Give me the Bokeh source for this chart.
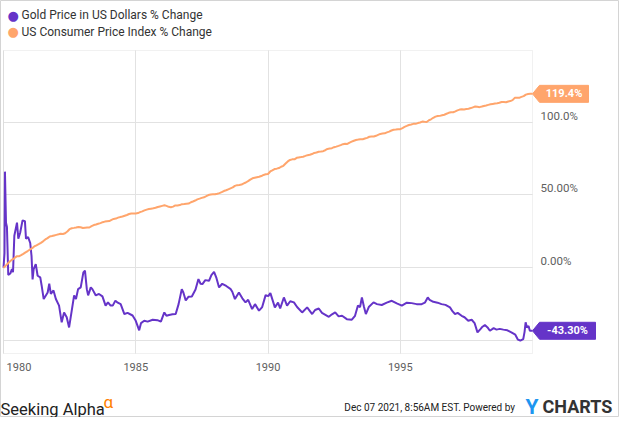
import pandas as pd
from bokeh.plotting import figure
from bokeh.models import Range1d, LinearAxis, FixedTicker, Label, PolyAnnotation, Grid, BoxAnnotation
from bokeh.embed import file_html
from bokeh.resources import INLINE

# ---------------- data ----------------
series_names = ["Gold Price in US Dollars % Change", "US Consumer Price Index % Change"]

# Gold: years since 31 Dec 1979 and % change
gold_offsets = [0.00, 0.038, 0.055, 0.094, 0.13, 0.18, 0.256, 0.32, 0.36, 0.41, 0.51, 0.56, 0.63, 0.72, 0.81,
                0.85, 0.93, 1.01, 1.06, 1.10, 1.14, 1.22, 1.29, 1.39, 1.44, 1.52, 1.67, 1.73, 1.79, 1.89,
                1.98, 2.10, 2.20, 2.29, 2.39, 2.48, 2.58, 2.67, 2.74, 2.82, 2.92, 3.02, 3.08, 3.15, 3.20,
                3.30, 3.36, 3.49, 3.61, 3.74, 3.86, 3.95, 4.05, 4.13, 4.23, 4.32, 4.43, 4.57, 4.69, 4.88,
                4.99, 5.13, 5.20, 5.32, 5.45, 5.64, 5.82, 5.95, 6.08, 6.16, 6.26, 6.39, 6.51, 6.62, 6.74,
                6.80, 6.89, 6.99, 7.12, 7.26, 7.37, 7.45, 7.52, 7.63, 7.77, 7.86, 7.96, 8.05, 8.15, 8.27,
                8.42, 8.59, 8.65, 8.75, 8.90, 9.03, 9.15, 9.25, 9.40, 9.51, 9.66, 9.78, 9.91, 10.01, 10.09,
                10.26, 10.38, 10.46, 10.60, 10.72, 10.84, 10.98, 11.10, 11.29, 11.48, 11.67, 11.78, 11.92,
                12.04, 12.30, 12.42, 12.54, 12.67, 12.80, 12.98, 13.17, 13.29, 13.40, 13.48, 13.55, 13.63,
                13.70, 13.81, 13.99, 14.12, 14.30, 14.49, 14.68, 14.87, 15.06, 15.25, 15.43, 15.62, 15.81,
                15.93, 16.04, 16.11, 16.25, 16.41, 16.56, 16.71, 16.88, 16.98, 17.07, 17.17, 17.32, 17.43,
                17.57, 17.70, 17.81, 17.92, 18.04, 18.11, 18.20, 18.30, 18.39, 18.53, 18.64, 18.76, 18.90,
                19.05, 19.20, 19.35, 19.45, 19.54, 19.65, 19.70, 19.74, 19.79, 19.85, 19.90, 20.0]
gold_pct = [0, 10, 66, 31, 28, -5, -4, -1, -3, 22, 31, 20, 24, 32.5, 32,
            20, 21, 17, 8, -8, -1, 2.5, -5.5, -6.6, -12, -21.5, -17, -11, -18, -15.6,
            -21.5, -26, -37.5, -30.7, -34, -41, -29.5, -19, -21.5, -14.7, -13.5, -3.2, -2, -14.7, -19,
            -13.5, -14.7, -19, -18, -19.7, -26, -23.8, -26, -26, -22.6, -24, -25, -31.8, -31, -32.8,
            -36, -43, -38, -36.4, -37, -35.7, -36, -37, -30.7, -33, -32.5, -32, -31.8, -25, -14.7,
            -17, -22.5, -20, -19.7, -15, -7.8, -11, -11.2, -8.5, -9, -5, -2.8, -7, -13.5, -11,
            -12.5, -14.7, -16.5, -21.5, -17, -21, -23.8, -22, -28.4, -25, -29.5, -27, -18.8, -19.5, -17.4,
            -27.2, -24, -28, -20.4, -26, -23, -23.8, -27, -30.7, -27.2, -31.8, -29, -28,
            -31, -33.7, -32, -30.7, -33.4, -33, -35.3, -35.7, -33, -26, -27, -20.4, -27,
            -31.8, -27, -23.8, -25, -25.6, -24, -22.7, -24.5, -26, -24, -24.3, -25, -25,
            -24, -20.4, -22, -23.4, -24, -25, -25.5, -27.2, -30, -31.8, -31, -33, -34,
            -36.4, -35.7, -38, -44.4, -42, -40.5, -39.4, -41, -43.3, -41.5, -42.5, -42, -42.5,
            -43, -44.4, -46, -49.4, -50, -49, -44, -37.5, -41, -40, -43.3, -43.3]

# US CPI (index, monthly, Dec 1979 .. Dec 1999)
cpi_index = [76.7,
    77.8, 78.9, 80.1, 81.0, 81.8, 82.7, 82.7, 83.3, 84.0, 84.8, 85.5, 86.3,
    87.0, 87.9, 88.5, 89.1, 89.8, 90.6, 91.6, 92.3, 93.2, 93.4, 93.7, 94.0,
    94.3, 94.6, 94.5, 94.9, 95.8, 97.0, 97.5, 97.7, 97.9, 98.2, 98.0, 97.6,
    97.8, 97.9, 97.9, 98.6, 99.2, 99.5, 99.9, 100.2, 100.7, 101.0, 101.2, 101.3,
    101.9, 102.4, 102.6, 103.1, 103.4, 103.7, 104.1, 104.5, 105.0, 105.3, 105.3, 105.3,
    105.5, 106.0, 106.4, 106.9, 107.3, 107.6, 107.8, 108.0, 108.3, 108.7, 109.0, 109.3,
    109.6, 109.3, 108.8, 108.6, 108.9, 109.5, 109.5, 109.7, 110.2, 110.3, 110.4, 110.5,
    111.2, 111.6, 112.1, 112.7, 113.1, 113.5, 113.8, 114.4, 115.0, 115.3, 115.4, 115.4,
    115.7, 116.0, 116.5, 117.1, 117.5, 118.0, 118.5, 119.0, 119.8, 120.2, 120.3, 120.5,
    121.1, 121.6, 122.3, 123.1, 123.8, 124.1, 124.4, 124.6, 125.0, 125.6, 125.9, 126.1,
    127.4, 128.0, 128.7, 128.9, 129.2, 129.9, 130.4, 131.6, 132.7, 133.5, 133.8, 133.8,
    134.6, 134.8, 135.0, 135.2, 135.6, 136.0, 136.2, 136.6, 137.2, 137.4, 137.8, 137.9,
    138.1, 138.6, 139.3, 139.5, 139.7, 140.2, 140.5, 140.9, 141.3, 141.8, 142.0, 141.9,
    142.6, 143.1, 143.6, 144.0, 144.2, 144.4, 144.4, 144.8, 145.1, 145.7, 145.8, 145.8,
    146.2, 146.7, 147.2, 147.4, 147.5, 148.0, 148.4, 149.0, 149.4, 149.5, 149.7, 149.7,
    150.3, 150.9, 151.4, 151.9, 152.2, 152.5, 152.5, 152.9, 153.2, 153.7, 153.6, 153.5,
    154.4, 154.9, 155.7, 156.3, 156.6, 156.7, 157.0, 157.3, 157.8, 158.3, 158.6, 158.6,
    159.1, 159.6, 160.0, 160.2, 160.1, 160.3, 160.5, 160.8, 161.2, 161.6, 161.5, 161.3,
    161.6, 161.9, 162.2, 162.5, 162.8, 163.0, 163.2, 163.4, 163.6, 164.0, 164.0, 163.9,
    164.3, 164.5, 165.0, 166.2, 166.2, 166.2, 166.7, 167.1, 167.9, 168.2, 168.3, 168.3]

x_tick_labels = ["1980", "1985", "1990", "1995"]
y_tick_values = [0, 50, 100]
y_tick_labels = ["0.00%", "50.00%", "100.0%"]
y_grid_values = [-50, 0, 50, 100]
footer_date = "Dec 07 2021, 8:56AM EST."

# ---------------- derived ----------------
gold_x = [1980 + d for d in gold_offsets]
months = pd.date_range("1979-12-31", periods=len(cpi_index), freq="ME")
cpi_x = [m.year + m.dayofyear / (366 if m.is_leap_year else 365) for m in months]
cpi_pct = [(v / cpi_index[0] - 1) * 100 for v in cpi_index]

GOLD = "#6534c8"
CPI = "#ffa56c"
FONT = "Roboto"
GRID = "#e2e2e2"

# canvas and plot-area geometry (pixels inside the figure)
W, H = 619, 417
PL, PR, PT, PB = 3, 532, 50, 353
X0, X1 = 1980.0, 2000.0
Y0, Y1 = -58.9, 149.2
pxx = (PR - PL) / (X1 - X0)
pxy = (PB - PT) / (Y1 - Y0)


def fx(px):  # figure pixel -> data x
    return X0 + (px - PL) / pxx


def fy(py):  # figure pixel -> data y
    return Y1 - (py - PT) / pxy


p = figure(width=W, height=H, x_range=Range1d(fx(0), fx(W)), y_range=Range1d(fy(H), fy(0)),
           output_backend="svg", toolbar_location=None, x_axis_location=None, y_axis_location=None,
           min_border_left=0, min_border_right=0, min_border_top=0, min_border_bottom=0)
p.background_fill_color = "white"
p.border_fill_color = "white"
p.outline_line_color = "#d4d4d4"
p.xgrid.visible = False
p.ygrid.visible = False

# grids limited to the plot area
p.add_layout(Grid(dimension=0, ticker=FixedTicker(ticks=[int(t) for t in x_tick_labels]),
                  cross_bounds=(Y0, Y1), grid_line_color=GRID), "center")
p.add_layout(Grid(dimension=1, ticker=FixedTicker(ticks=y_grid_values),
                  cross_bounds=(X0, X1), grid_line_color=GRID), "center")
p.add_layout(BoxAnnotation(left=X0, right=X1, bottom=Y0, top=Y1, fill_alpha=0,
                           line_color="#d0d0d0", line_width=1, level="underlay"))

# bottom axis
x_ticks = [int(t) for t in x_tick_labels]
x_ticks[0] = x_ticks[0] + 0.585
xax = LinearAxis(fixed_location=Y0, ticker=FixedTicker(ticks=x_ticks),
                 major_label_overrides={t: l for t, l in zip(x_ticks, x_tick_labels)},
                 axis_line_color=None, major_tick_line_color=None, minor_tick_line_color=None,
                 major_tick_out=0, major_tick_in=0, minor_tick_out=0, minor_tick_in=0,
                 major_label_standoff=9, major_label_text_font=FONT,
                 major_label_text_font_size="11px", major_label_text_color="#606060")
p.add_layout(xax, "below")

# right axis (labels sit a bit above their grid lines)
shift = 6.5 / pxy
yr = p.y_range
p.extra_y_ranges = {"lab": Range1d(yr.start - shift, yr.end - shift)}
yax = LinearAxis(y_range_name="lab", fixed_location=X1, ticker=FixedTicker(ticks=y_tick_values),
                 major_label_overrides={v: l for v, l in zip(y_tick_values, y_tick_labels)},
                 axis_line_color=None, major_tick_line_color=None, minor_tick_line_color=None,
                 major_tick_out=0, major_tick_in=0, minor_tick_out=0, minor_tick_in=0,
                 major_label_standoff=8, major_label_text_font=FONT,
                 major_label_text_font_size="11.5px", major_label_text_color="#606060")
p.add_layout(yax, "right")

# series
p.line(gold_x, gold_pct, line_color=GOLD, line_width=2)
p.line(cpi_x, cpi_pct, line_color=CPI, line_width=2)


# end-value tags
def tag(v, txt, color, w):
    hh = 8.5 / pxy
    xs = [X1, X1 + 7 / pxx, X1 + w / pxx, X1 + w / pxx, X1 + 7 / pxx]
    ys = [v, v + hh, v + hh, v - hh, v - hh]
    p.add_layout(PolyAnnotation(xs=xs, ys=ys, fill_color=color, fill_alpha=1.0, line_color=color,
                                line_alpha=1.0, level="overlay"))
    p.add_layout(Label(x=X1 + (7 + w) / 2 / pxx, y=v, text=txt, text_color="white", text_font=FONT,
                       text_font_style="bold", text_font_size="11px", text_align="center",
                       text_baseline="middle", level="overlay"))


tag(cpi_pct[-1], f"{cpi_pct[-1]:.1f}%", CPI, 56)
tag(gold_pct[-1], f"{gold_pct[-1]:.2f}%", GOLD, 63)

# legend
for i, (name, col) in enumerate(zip(series_names, [GOLD, CPI])):
    yy = 14.7 + 16.6 * i
    p.add_layout(Label(x=fx(12.7), y=fy(yy), text="●", text_color=col, text_font="DejaVu Sans",
                       text_font_size="13px", text_align="center", text_baseline="middle"))
    p.add_layout(Label(x=fx(21), y=fy(yy), text=name, text_color="#333333", text_font=FONT,
                       text_font_size="12px", text_align="left", text_baseline="middle"))

# footer
p.add_layout(Label(x=fx(0), y=fy(408.5), text="Seeking Alpha", text_color="#222222", text_font=FONT,
                   text_font_size="16.5px", text_align="left", text_baseline="alphabetic"))
p.add_layout(Label(x=fx(103), y=fy(401), text="α", text_color="#ff8000", text_font=FONT,
                   text_font_size="17px", text_align="left", text_baseline="alphabetic"))
p.add_layout(Label(x=fx(517), y=fy(407), text=footer_date + "  Powered by", text_color="#222222",
                   text_font=FONT, text_font_size="10px", text_align="right",
                   text_baseline="middle"))
p.add_layout(Label(x=fx(531.5), y=fy(406), text="Y", text_color="#1e96f0", text_font=FONT,
                   text_font_style="bold", text_font_size="21px", text_align="center", text_baseline="middle"))
p.add_layout(Label(x=fx(542), y=fy(406), text="CHARTS", text_color="#333333", text_font=FONT,
                   text_font_style="bold", text_font_size="18px", text_align="left", text_baseline="middle"))

open("out.html", "w").write(file_html(p, INLINE))
